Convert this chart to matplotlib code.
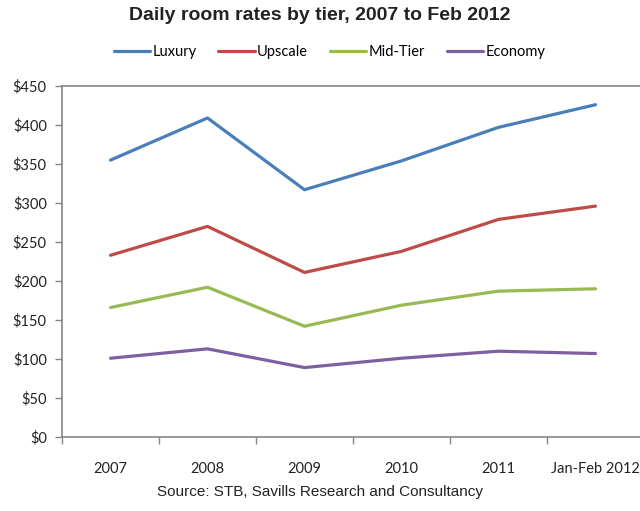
import matplotlib
matplotlib.use("Agg")
import matplotlib.pyplot as plt
from matplotlib.ticker import FixedLocator, FuncFormatter

categories = ["2007", "2008", "2009", "2010", "2011", "Jan-Feb 2012"]
luxury = [355, 409, 317, 354, 397, 426]
upscale = [233, 270, 211, 238, 279, 296]
mid_tier = [166, 192, 142, 169, 187, 190]
economy = [101, 113, 89, 101, 110, 107]

series = [
    ("Luxury", luxury, "#4A7EBB"),
    ("Upscale", upscale, "#BE4B48"),
    ("Mid-Tier", mid_tier, "#98B954"),
    ("Economy", economy, "#7D60A0"),
]

tick_font = "Lato"
axis_grey = "#868686"

fig = plt.figure(figsize=(6.4, 5.11), dpi=100)
# plot area runs off the right edge like in the source image
ax = fig.add_axes([62 / 640, 1 - 437 / 511, 582 / 640, 351 / 511])

x = list(range(len(categories)))
for name, vals, col in series:
    ax.plot(x, vals, color=col, linewidth=2.3, label=name, solid_capstyle="round")

ax.set_xlim(-0.5, len(categories) - 0.5)
ax.set_ylim(0, 450)
ax.set_yticks(range(0, 451, 50))
ax.yaxis.set_major_formatter(FuncFormatter(lambda v, p: f"${int(v)}"))

ax.set_xticks(x)
ax.set_xticklabels(categories)
ax.xaxis.set_minor_locator(FixedLocator([i - 0.5 for i in range(len(categories) + 1)]))
ax.tick_params(axis="x", which="major", length=0, pad=18)
ax.tick_params(axis="x", which="minor", length=5, color=axis_grey, width=1)
ax.tick_params(axis="y", length=5, color=axis_grey, width=1, pad=6)

for lbl in ax.get_xticklabels() + ax.get_yticklabels():
    lbl.set_fontfamily(tick_font)
    lbl.set_fontsize(10.5)
    lbl.set_color("#222222")

for side in ["left", "bottom", "top"]:
    ax.spines[side].set_color(axis_grey)
    ax.spines[side].set_linewidth(1.2)
ax.spines["right"].set_visible(False)

fig.text(320 / 640, 1 - 16 / 511, "Daily room rates by tier, 2007 to Feb 2012",
         ha="center", va="center", fontsize=14, fontweight="bold",
         family="Liberation Sans", color="#222222")

fig.legend(loc="center", bbox_to_anchor=(0.515, 1 - 52 / 511), ncol=4,
           frameon=False, handlelength=2.5, handletextpad=0.15,
           columnspacing=1.5, prop={"family": tick_font, "size": 10.5})

fig.text(320 / 640, 1 - 492 / 511, "Source: STB, Savills Research and Consultancy",
         ha="center", va="center", fontsize=11, family="Liberation Sans",
         color="#222222")

fig.savefig("out.png", dpi=100)
